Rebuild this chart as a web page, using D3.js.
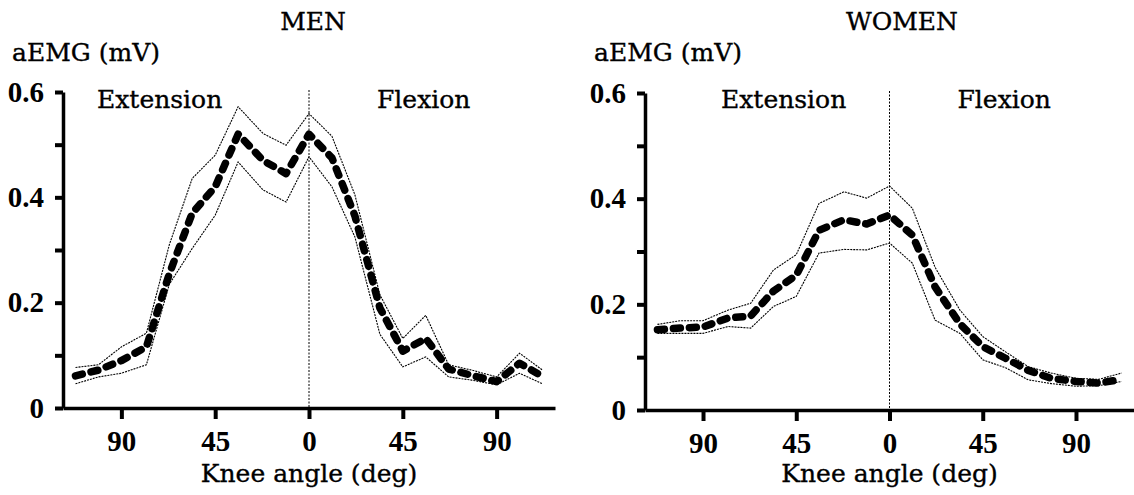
<!DOCTYPE html>
<html lang="en">
<head>
<meta charset="UTF-8" />
<title>aEMG vs knee angle – men and women</title>
<script src="https://d3js.org/d3.v7.min.js"></script>
<style>
  body { margin: 0; background: #fff; }
  svg { display: block; }
  .lbl { font-family: 'DejaVu Serif', serif; font-size: 25px; fill: #000; stroke: #000; stroke-width: 0.35; }
  .axis .tick text { font-family: 'Liberation Serif', serif; font-weight: bold; font-size: 29px; fill: #000; }
  .axis path { stroke: #000; stroke-width: 3.5; }
  .axis line { stroke: #000; stroke-width: 4; }
</style>
</head>
<body>
<div id="chart"></div>
<script>
// knee angle in deg: negative = extension side, positive = flexion side
const angles = [-112, -101, -90, -78, -67, -56, -45, -34, -22, -11, 0, 11, 22, 34, 45, 56, 67, 78, 90, 101, 112];

// aEMG (mV), mean and band (upper / lower)
const menMean  = [0.061, 0.072, 0.090, 0.116, 0.255, 0.370, 0.420, 0.520, 0.470, 0.445, 0.520, 0.475, 0.365, 0.190, 0.108, 0.132, 0.074, 0.062, 0.050, 0.085, 0.060];
const menUpper = [0.077, 0.082, 0.116, 0.142, 0.310, 0.436, 0.480, 0.572, 0.521, 0.499, 0.559, 0.516, 0.405, 0.215, 0.132, 0.176, 0.082, 0.072, 0.059, 0.104, 0.072];
const menLower = [0.046, 0.059, 0.066, 0.082, 0.235, 0.303, 0.366, 0.467, 0.414, 0.391, 0.477, 0.420, 0.325, 0.140, 0.078, 0.097, 0.059, 0.053, 0.044, 0.066, 0.046];

const womenMean  = [0.152, 0.155, 0.157, 0.174, 0.178, 0.225, 0.255, 0.340, 0.360, 0.352, 0.369, 0.331, 0.233, 0.163, 0.120, 0.098, 0.075, 0.060, 0.054, 0.051, 0.058];
const womenUpper = [0.162, 0.169, 0.169, 0.189, 0.202, 0.265, 0.294, 0.391, 0.413, 0.401, 0.424, 0.382, 0.270, 0.189, 0.139, 0.110, 0.082, 0.070, 0.060, 0.058, 0.070];
const womenLower = [0.145, 0.145, 0.145, 0.158, 0.155, 0.196, 0.215, 0.297, 0.304, 0.303, 0.316, 0.278, 0.170, 0.145, 0.095, 0.080, 0.057, 0.050, 0.045, 0.046, 0.054];

const xTicks = [-90, -45, 0, 45, 90];
const yTicks = [0, 0.1, 0.2, 0.3, 0.4, 0.5, 0.6];
const yLabels = [0, 0.2, 0.4, 0.6];

const W = 1134, H = 495;

const svg = d3.select('#chart').append('svg')
  .attr('width', W).attr('height', H);

const panels = [
  { title: 'MEN', mean: menMean, upper: menUpper, lower: menLower,
    x0: 63, x1: 555, yTop: 92, yBot: 408, titleX: 313, extX: 97 },
  { title: 'WOMEN', mean: womenMean, upper: womenUpper, lower: womenLower,
    x0: 645, x1: 1134, yTop: 93, yBot: 410, titleX: 902, extX: 721 }
];

panels.forEach(p => {
  const g = svg.append('g');
  const x = d3.scaleLinear().domain([-118, 118]).range([p.x0, p.x1]);
  const y = d3.scaleLinear().domain([0, 0.6]).range([p.yBot, p.yTop]);

  // zero line
  g.append('line')
    .attr('x1', x(0)).attr('x2', x(0))
    .attr('y1', y(0.6) - 2).attr('y2', y(0))
    .attr('stroke', '#000').attr('stroke-width', 1)
    .attr('stroke-dasharray', '2,1.5');

  const line = d3.line().x(d => x(d.a)).y(d => y(d.v));
  const rows = arr => angles.map((a, i) => ({ a, v: arr[i] }));

  [p.upper, p.lower].forEach(arr => {
    g.append('path').datum(rows(arr))
      .attr('d', line)
      .attr('fill', 'none').attr('stroke', '#000')
      .attr('stroke-width', 1.1)
      .attr('stroke-dasharray', '2,1');
  });

  g.append('path').datum(rows(p.mean))
    .attr('d', line)
    .attr('fill', 'none').attr('stroke', '#000')
    .attr('stroke-width', 7.5)
    .attr('stroke-linejoin', 'round')
    .attr('stroke-linecap', 'round')
    .attr('stroke-dasharray', '7,9');

  // axes
  g.append('g').attr('class', 'axis')
    .attr('transform', `translate(${p.x0},0)`)
    .call(d3.axisLeft(y).tickValues(yTicks).tickSize(8).tickSizeOuter(0).tickPadding(11)
      .tickFormat(d => yLabels.includes(d) ? (d === 0 ? '0' : d3.format('.1f')(d)) : ''));

  g.append('g').attr('class', 'axis')
    .attr('transform', `translate(0,${p.yBot})`)
    .call(d3.axisBottom(x).tickValues(xTicks).tickSize(11).tickSizeOuter(0).tickPadding(11)
      .tickFormat(d => Math.abs(d)));

  // texts
  g.append('text').attr('class', 'lbl')
    .attr('x', p.titleX).attr('y', 30).attr('text-anchor', 'middle').text(p.title);
  g.append('text').attr('class', 'lbl')
    .attr('x', p.x0 - 51).attr('y', 61).text('aEMG (mV)');
  g.append('text').attr('class', 'lbl')
    .attr('x', p.extX).attr('y', 108).text('Extension');
  g.append('text').attr('class', 'lbl')
    .attr('x', x(0) + 68).attr('y', 108).text('Flexion');
  g.append('text').attr('class', 'lbl')
    .attr('x', x(0)).attr('y', 482).attr('text-anchor', 'middle').text('Knee angle (deg)');
});
</script>
</body>
</html>
